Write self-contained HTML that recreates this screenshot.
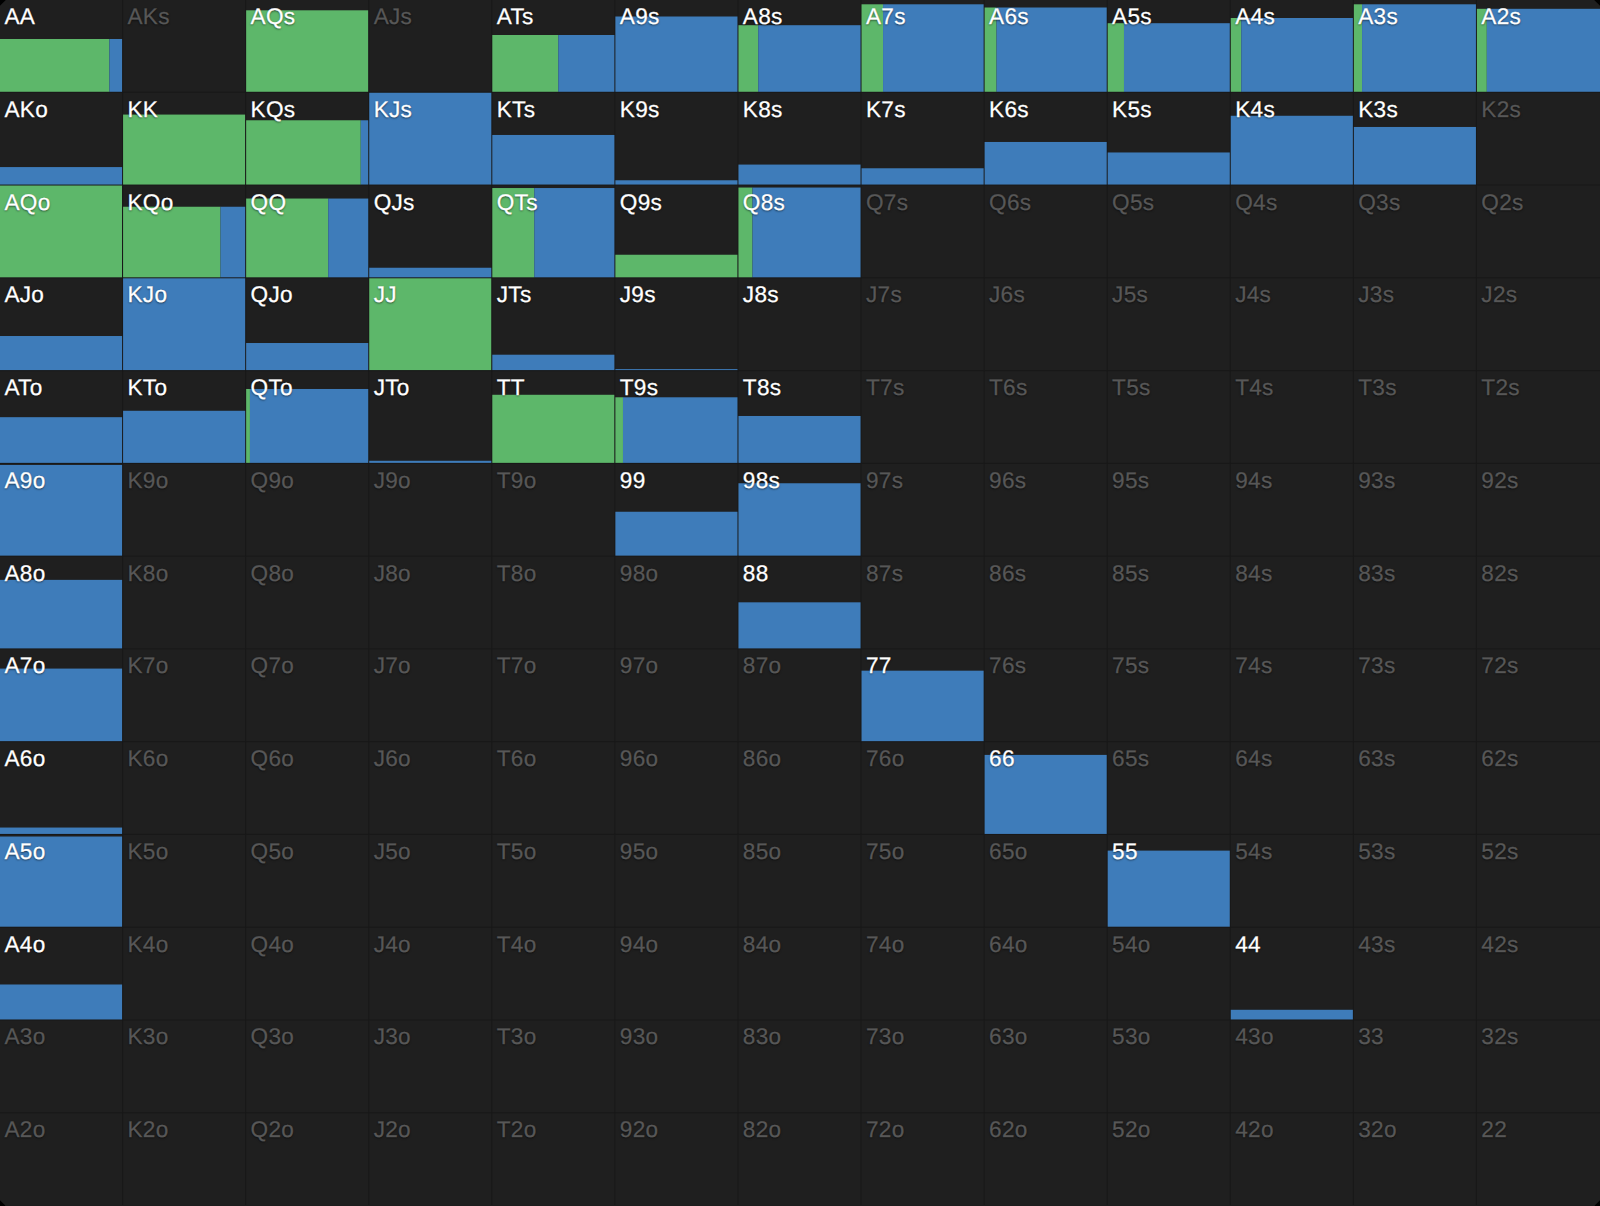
<!DOCTYPE html>
<html><head><meta charset="utf-8"><style>
html,body{margin:0;padding:0;background:#000;width:1600px;height:1206px;overflow:hidden}
#g{position:absolute;left:0;top:0;width:1600px;height:1206px;background:#1f1f1f;overflow:hidden;clip-path:polygon(5.8px 0,1594.2px 0,1600px 5.8px,1600px 1200.2px,1594.2px 1206px,5.8px 1206px,0 1200.2px,0 5.8px)}
svg{position:absolute;left:0;top:0}
.t{position:absolute;font:22.6px/22.6px "Liberation Sans",sans-serif;letter-spacing:.3px;color:#575757;text-shadow:0 1px 2px rgba(0,0,0,.6);white-space:nowrap;text-rendering:geometricPrecision;-webkit-text-stroke:.25px currentColor}
.w{color:#ffffff}
</style></head><body><div id="g">
<svg width="1600" height="1206" viewBox="0 0 1600 1206">
<rect x="122.08" y="0" width="1" height="1206" fill="#181818"/>
<rect x="245.15" y="0" width="1" height="1206" fill="#181818"/>
<rect x="368.23" y="0" width="1" height="1206" fill="#181818"/>
<rect x="491.31" y="0" width="1" height="1206" fill="#181818"/>
<rect x="614.38" y="0" width="1" height="1206" fill="#181818"/>
<rect x="737.46" y="0" width="1" height="1206" fill="#181818"/>
<rect x="860.54" y="0" width="1" height="1206" fill="#181818"/>
<rect x="983.62" y="0" width="1" height="1206" fill="#181818"/>
<rect x="1106.69" y="0" width="1" height="1206" fill="#181818"/>
<rect x="1229.77" y="0" width="1" height="1206" fill="#181818"/>
<rect x="1352.85" y="0" width="1" height="1206" fill="#181818"/>
<rect x="1475.92" y="0" width="1" height="1206" fill="#181818"/>
<rect x="0" y="91.77" width="1600" height="1" fill="#181818"/>
<rect x="0" y="184.54" width="1600" height="1" fill="#181818"/>
<rect x="0" y="277.31" width="1600" height="1" fill="#181818"/>
<rect x="0" y="370.08" width="1600" height="1" fill="#181818"/>
<rect x="0" y="462.85" width="1600" height="1" fill="#181818"/>
<rect x="0" y="555.62" width="1600" height="1" fill="#181818"/>
<rect x="0" y="648.38" width="1600" height="1" fill="#181818"/>
<rect x="0" y="741.15" width="1600" height="1" fill="#181818"/>
<rect x="0" y="833.92" width="1600" height="1" fill="#181818"/>
<rect x="0" y="926.69" width="1600" height="1" fill="#181818"/>
<rect x="0" y="1019.46" width="1600" height="1" fill="#181818"/>
<rect x="0" y="1112.23" width="1600" height="1" fill="#181818"/>
<rect x="0" y="1205" width="1600" height="1" fill="#1d1d1d"/>
<rect x="0" y="39" width="109.4" height="52.77" fill="#5db76a"/>
<rect x="109.4" y="39" width="12.68" height="52.77" fill="#3e7cba"/>
<rect x="246.15" y="10.3" width="122" height="81.47" fill="#5db76a"/>
<rect x="492.31" y="35" width="66" height="56.77" fill="#5db76a"/>
<rect x="558.31" y="35" width="56.08" height="56.77" fill="#3e7cba"/>
<rect x="615.38" y="16.5" width="122.08" height="75.27" fill="#3e7cba"/>
<rect x="738.46" y="25.2" width="19.8" height="66.57" fill="#5db76a"/>
<rect x="758.26" y="25.2" width="102.28" height="66.57" fill="#3e7cba"/>
<rect x="861.54" y="4.3" width="21.5" height="87.47" fill="#5db76a"/>
<rect x="883.04" y="4.3" width="100.58" height="87.47" fill="#3e7cba"/>
<rect x="984.62" y="7.5" width="11.9" height="84.27" fill="#5db76a"/>
<rect x="996.52" y="7.5" width="110.18" height="84.27" fill="#3e7cba"/>
<rect x="1107.69" y="23.2" width="16.3" height="68.57" fill="#5db76a"/>
<rect x="1123.99" y="23.2" width="105.78" height="68.57" fill="#3e7cba"/>
<rect x="1230.77" y="18" width="10.5" height="73.77" fill="#5db76a"/>
<rect x="1241.27" y="18" width="111.58" height="73.77" fill="#3e7cba"/>
<rect x="1353.85" y="4.3" width="8.2" height="87.47" fill="#5db76a"/>
<rect x="1362.05" y="4.3" width="113.88" height="87.47" fill="#3e7cba"/>
<rect x="1476.92" y="8.8" width="9.9" height="82.97" fill="#5db76a"/>
<rect x="1486.82" y="8.8" width="113.18" height="82.97" fill="#3e7cba"/>
<rect x="0" y="167.07" width="122.08" height="17.47" fill="#3e7cba"/>
<rect x="123.08" y="114.57" width="122" height="69.97" fill="#5db76a"/>
<rect x="246.15" y="120.27" width="114.6" height="64.27" fill="#5db76a"/>
<rect x="360.75" y="120.27" width="7.48" height="64.27" fill="#3e7cba"/>
<rect x="369.23" y="92.77" width="122.08" height="91.77" fill="#3e7cba"/>
<rect x="492.31" y="134.97" width="122.08" height="49.57" fill="#3e7cba"/>
<rect x="615.38" y="180.27" width="122.08" height="4.27" fill="#3e7cba"/>
<rect x="738.46" y="164.57" width="122.08" height="19.97" fill="#3e7cba"/>
<rect x="861.54" y="168.27" width="122.08" height="16.27" fill="#3e7cba"/>
<rect x="984.62" y="141.97" width="122.08" height="42.57" fill="#3e7cba"/>
<rect x="1107.69" y="152.47" width="122.08" height="32.07" fill="#3e7cba"/>
<rect x="1230.77" y="115.77" width="122.08" height="68.77" fill="#3e7cba"/>
<rect x="1353.85" y="126.97" width="122.08" height="57.57" fill="#3e7cba"/>
<rect x="0" y="185.54" width="122" height="91.77" fill="#5db76a"/>
<rect x="123.08" y="206.74" width="97.4" height="70.57" fill="#5db76a"/>
<rect x="220.48" y="206.74" width="24.68" height="70.57" fill="#3e7cba"/>
<rect x="246.15" y="198.54" width="82.1" height="78.77" fill="#5db76a"/>
<rect x="328.25" y="198.54" width="39.98" height="78.77" fill="#3e7cba"/>
<rect x="369.23" y="267.74" width="122.08" height="9.57" fill="#3e7cba"/>
<rect x="492.31" y="188.04" width="42" height="89.27" fill="#5db76a"/>
<rect x="534.31" y="188.04" width="80.08" height="89.27" fill="#3e7cba"/>
<rect x="615.38" y="254.74" width="122" height="22.57" fill="#5db76a"/>
<rect x="738.46" y="187.54" width="14" height="89.77" fill="#5db76a"/>
<rect x="752.46" y="187.54" width="108.08" height="89.77" fill="#3e7cba"/>
<rect x="0" y="336.01" width="122.08" height="34.07" fill="#3e7cba"/>
<rect x="123.08" y="278.31" width="122.08" height="91.77" fill="#3e7cba"/>
<rect x="246.15" y="343.01" width="122.08" height="27.07" fill="#3e7cba"/>
<rect x="369.23" y="278.31" width="122" height="91.77" fill="#5db76a"/>
<rect x="492.31" y="354.71" width="122.08" height="15.37" fill="#3e7cba"/>
<rect x="615.38" y="369.11" width="122.08" height="0.97" fill="#3e7cba"/>
<rect x="0" y="417.18" width="122.08" height="45.67" fill="#3e7cba"/>
<rect x="123.08" y="410.78" width="122.08" height="52.07" fill="#3e7cba"/>
<rect x="246.15" y="388.98" width="3.8" height="73.87" fill="#5db76a"/>
<rect x="249.95" y="388.98" width="118.28" height="73.87" fill="#3e7cba"/>
<rect x="369.23" y="460.78" width="122.08" height="2.07" fill="#3e7cba"/>
<rect x="492.31" y="394.78" width="122" height="68.07" fill="#5db76a"/>
<rect x="615.38" y="397.28" width="7.6" height="65.57" fill="#5db76a"/>
<rect x="622.98" y="397.28" width="114.48" height="65.57" fill="#3e7cba"/>
<rect x="738.46" y="415.98" width="122.08" height="46.87" fill="#3e7cba"/>
<rect x="0" y="464.95" width="122.08" height="90.67" fill="#3e7cba"/>
<rect x="615.38" y="511.75" width="122.08" height="43.87" fill="#3e7cba"/>
<rect x="738.46" y="483.25" width="122.08" height="72.37" fill="#3e7cba"/>
<rect x="0" y="579.87" width="122.08" height="68.52" fill="#3e7cba"/>
<rect x="738.46" y="602.32" width="122.08" height="46.07" fill="#3e7cba"/>
<rect x="0" y="668.58" width="122.08" height="72.57" fill="#3e7cba"/>
<rect x="861.54" y="670.68" width="122.08" height="70.47" fill="#3e7cba"/>
<rect x="0" y="827.55" width="122.08" height="6.37" fill="#3e7cba"/>
<rect x="984.62" y="754.9" width="122.08" height="79.02" fill="#3e7cba"/>
<rect x="0" y="836.52" width="122.08" height="90.17" fill="#3e7cba"/>
<rect x="1107.69" y="850.62" width="122.08" height="76.07" fill="#3e7cba"/>
<rect x="0" y="984.49" width="122.08" height="34.97" fill="#3e7cba"/>
<rect x="1230.77" y="1009.79" width="122.08" height="9.67" fill="#3e7cba"/>
</svg>
<div class="t w" style="left:4.4px;top:6px">AA</div>
<div class="t" style="left:127.48px;top:6px">AKs</div>
<div class="t w" style="left:250.55px;top:6px">AQs</div>
<div class="t" style="left:373.63px;top:6px">AJs</div>
<div class="t w" style="left:496.71px;top:6px">ATs</div>
<div class="t w" style="left:619.78px;top:6px">A9s</div>
<div class="t w" style="left:742.86px;top:6px">A8s</div>
<div class="t w" style="left:865.94px;top:6px">A7s</div>
<div class="t w" style="left:989.02px;top:6px">A6s</div>
<div class="t w" style="left:1112.09px;top:6px">A5s</div>
<div class="t w" style="left:1235.17px;top:6px">A4s</div>
<div class="t w" style="left:1358.25px;top:6px">A3s</div>
<div class="t w" style="left:1481.32px;top:6px">A2s</div>
<div class="t w" style="left:4.4px;top:98.77px">AKo</div>
<div class="t w" style="left:127.48px;top:98.77px">KK</div>
<div class="t w" style="left:250.55px;top:98.77px">KQs</div>
<div class="t w" style="left:373.63px;top:98.77px">KJs</div>
<div class="t w" style="left:496.71px;top:98.77px">KTs</div>
<div class="t w" style="left:619.78px;top:98.77px">K9s</div>
<div class="t w" style="left:742.86px;top:98.77px">K8s</div>
<div class="t w" style="left:865.94px;top:98.77px">K7s</div>
<div class="t w" style="left:989.02px;top:98.77px">K6s</div>
<div class="t w" style="left:1112.09px;top:98.77px">K5s</div>
<div class="t w" style="left:1235.17px;top:98.77px">K4s</div>
<div class="t w" style="left:1358.25px;top:98.77px">K3s</div>
<div class="t" style="left:1481.32px;top:98.77px">K2s</div>
<div class="t w" style="left:4.4px;top:191.54px">AQo</div>
<div class="t w" style="left:127.48px;top:191.54px">KQo</div>
<div class="t w" style="left:250.55px;top:191.54px">QQ</div>
<div class="t w" style="left:373.63px;top:191.54px">QJs</div>
<div class="t w" style="left:496.71px;top:191.54px">QTs</div>
<div class="t w" style="left:619.78px;top:191.54px">Q9s</div>
<div class="t w" style="left:742.86px;top:191.54px">Q8s</div>
<div class="t" style="left:865.94px;top:191.54px">Q7s</div>
<div class="t" style="left:989.02px;top:191.54px">Q6s</div>
<div class="t" style="left:1112.09px;top:191.54px">Q5s</div>
<div class="t" style="left:1235.17px;top:191.54px">Q4s</div>
<div class="t" style="left:1358.25px;top:191.54px">Q3s</div>
<div class="t" style="left:1481.32px;top:191.54px">Q2s</div>
<div class="t w" style="left:4.4px;top:284.31px">AJo</div>
<div class="t w" style="left:127.48px;top:284.31px">KJo</div>
<div class="t w" style="left:250.55px;top:284.31px">QJo</div>
<div class="t w" style="left:373.63px;top:284.31px">JJ</div>
<div class="t w" style="left:496.71px;top:284.31px">JTs</div>
<div class="t w" style="left:619.78px;top:284.31px">J9s</div>
<div class="t w" style="left:742.86px;top:284.31px">J8s</div>
<div class="t" style="left:865.94px;top:284.31px">J7s</div>
<div class="t" style="left:989.02px;top:284.31px">J6s</div>
<div class="t" style="left:1112.09px;top:284.31px">J5s</div>
<div class="t" style="left:1235.17px;top:284.31px">J4s</div>
<div class="t" style="left:1358.25px;top:284.31px">J3s</div>
<div class="t" style="left:1481.32px;top:284.31px">J2s</div>
<div class="t w" style="left:4.4px;top:377.08px">ATo</div>
<div class="t w" style="left:127.48px;top:377.08px">KTo</div>
<div class="t w" style="left:250.55px;top:377.08px">QTo</div>
<div class="t w" style="left:373.63px;top:377.08px">JTo</div>
<div class="t w" style="left:496.71px;top:377.08px">TT</div>
<div class="t w" style="left:619.78px;top:377.08px">T9s</div>
<div class="t w" style="left:742.86px;top:377.08px">T8s</div>
<div class="t" style="left:865.94px;top:377.08px">T7s</div>
<div class="t" style="left:989.02px;top:377.08px">T6s</div>
<div class="t" style="left:1112.09px;top:377.08px">T5s</div>
<div class="t" style="left:1235.17px;top:377.08px">T4s</div>
<div class="t" style="left:1358.25px;top:377.08px">T3s</div>
<div class="t" style="left:1481.32px;top:377.08px">T2s</div>
<div class="t w" style="left:4.4px;top:469.85px">A9o</div>
<div class="t" style="left:127.48px;top:469.85px">K9o</div>
<div class="t" style="left:250.55px;top:469.85px">Q9o</div>
<div class="t" style="left:373.63px;top:469.85px">J9o</div>
<div class="t" style="left:496.71px;top:469.85px">T9o</div>
<div class="t w" style="left:619.78px;top:469.85px">99</div>
<div class="t w" style="left:742.86px;top:469.85px">98s</div>
<div class="t" style="left:865.94px;top:469.85px">97s</div>
<div class="t" style="left:989.02px;top:469.85px">96s</div>
<div class="t" style="left:1112.09px;top:469.85px">95s</div>
<div class="t" style="left:1235.17px;top:469.85px">94s</div>
<div class="t" style="left:1358.25px;top:469.85px">93s</div>
<div class="t" style="left:1481.32px;top:469.85px">92s</div>
<div class="t w" style="left:4.4px;top:562.62px">A8o</div>
<div class="t" style="left:127.48px;top:562.62px">K8o</div>
<div class="t" style="left:250.55px;top:562.62px">Q8o</div>
<div class="t" style="left:373.63px;top:562.62px">J8o</div>
<div class="t" style="left:496.71px;top:562.62px">T8o</div>
<div class="t" style="left:619.78px;top:562.62px">98o</div>
<div class="t w" style="left:742.86px;top:562.62px">88</div>
<div class="t" style="left:865.94px;top:562.62px">87s</div>
<div class="t" style="left:989.02px;top:562.62px">86s</div>
<div class="t" style="left:1112.09px;top:562.62px">85s</div>
<div class="t" style="left:1235.17px;top:562.62px">84s</div>
<div class="t" style="left:1358.25px;top:562.62px">83s</div>
<div class="t" style="left:1481.32px;top:562.62px">82s</div>
<div class="t w" style="left:4.4px;top:655.38px">A7o</div>
<div class="t" style="left:127.48px;top:655.38px">K7o</div>
<div class="t" style="left:250.55px;top:655.38px">Q7o</div>
<div class="t" style="left:373.63px;top:655.38px">J7o</div>
<div class="t" style="left:496.71px;top:655.38px">T7o</div>
<div class="t" style="left:619.78px;top:655.38px">97o</div>
<div class="t" style="left:742.86px;top:655.38px">87o</div>
<div class="t w" style="left:865.94px;top:655.38px">77</div>
<div class="t" style="left:989.02px;top:655.38px">76s</div>
<div class="t" style="left:1112.09px;top:655.38px">75s</div>
<div class="t" style="left:1235.17px;top:655.38px">74s</div>
<div class="t" style="left:1358.25px;top:655.38px">73s</div>
<div class="t" style="left:1481.32px;top:655.38px">72s</div>
<div class="t w" style="left:4.4px;top:748.15px">A6o</div>
<div class="t" style="left:127.48px;top:748.15px">K6o</div>
<div class="t" style="left:250.55px;top:748.15px">Q6o</div>
<div class="t" style="left:373.63px;top:748.15px">J6o</div>
<div class="t" style="left:496.71px;top:748.15px">T6o</div>
<div class="t" style="left:619.78px;top:748.15px">96o</div>
<div class="t" style="left:742.86px;top:748.15px">86o</div>
<div class="t" style="left:865.94px;top:748.15px">76o</div>
<div class="t w" style="left:989.02px;top:748.15px">66</div>
<div class="t" style="left:1112.09px;top:748.15px">65s</div>
<div class="t" style="left:1235.17px;top:748.15px">64s</div>
<div class="t" style="left:1358.25px;top:748.15px">63s</div>
<div class="t" style="left:1481.32px;top:748.15px">62s</div>
<div class="t w" style="left:4.4px;top:840.92px">A5o</div>
<div class="t" style="left:127.48px;top:840.92px">K5o</div>
<div class="t" style="left:250.55px;top:840.92px">Q5o</div>
<div class="t" style="left:373.63px;top:840.92px">J5o</div>
<div class="t" style="left:496.71px;top:840.92px">T5o</div>
<div class="t" style="left:619.78px;top:840.92px">95o</div>
<div class="t" style="left:742.86px;top:840.92px">85o</div>
<div class="t" style="left:865.94px;top:840.92px">75o</div>
<div class="t" style="left:989.02px;top:840.92px">65o</div>
<div class="t w" style="left:1112.09px;top:840.92px">55</div>
<div class="t" style="left:1235.17px;top:840.92px">54s</div>
<div class="t" style="left:1358.25px;top:840.92px">53s</div>
<div class="t" style="left:1481.32px;top:840.92px">52s</div>
<div class="t w" style="left:4.4px;top:933.69px">A4o</div>
<div class="t" style="left:127.48px;top:933.69px">K4o</div>
<div class="t" style="left:250.55px;top:933.69px">Q4o</div>
<div class="t" style="left:373.63px;top:933.69px">J4o</div>
<div class="t" style="left:496.71px;top:933.69px">T4o</div>
<div class="t" style="left:619.78px;top:933.69px">94o</div>
<div class="t" style="left:742.86px;top:933.69px">84o</div>
<div class="t" style="left:865.94px;top:933.69px">74o</div>
<div class="t" style="left:989.02px;top:933.69px">64o</div>
<div class="t" style="left:1112.09px;top:933.69px">54o</div>
<div class="t w" style="left:1235.17px;top:933.69px">44</div>
<div class="t" style="left:1358.25px;top:933.69px">43s</div>
<div class="t" style="left:1481.32px;top:933.69px">42s</div>
<div class="t" style="left:4.4px;top:1026.46px">A3o</div>
<div class="t" style="left:127.48px;top:1026.46px">K3o</div>
<div class="t" style="left:250.55px;top:1026.46px">Q3o</div>
<div class="t" style="left:373.63px;top:1026.46px">J3o</div>
<div class="t" style="left:496.71px;top:1026.46px">T3o</div>
<div class="t" style="left:619.78px;top:1026.46px">93o</div>
<div class="t" style="left:742.86px;top:1026.46px">83o</div>
<div class="t" style="left:865.94px;top:1026.46px">73o</div>
<div class="t" style="left:989.02px;top:1026.46px">63o</div>
<div class="t" style="left:1112.09px;top:1026.46px">53o</div>
<div class="t" style="left:1235.17px;top:1026.46px">43o</div>
<div class="t" style="left:1358.25px;top:1026.46px">33</div>
<div class="t" style="left:1481.32px;top:1026.46px">32s</div>
<div class="t" style="left:4.4px;top:1119.23px">A2o</div>
<div class="t" style="left:127.48px;top:1119.23px">K2o</div>
<div class="t" style="left:250.55px;top:1119.23px">Q2o</div>
<div class="t" style="left:373.63px;top:1119.23px">J2o</div>
<div class="t" style="left:496.71px;top:1119.23px">T2o</div>
<div class="t" style="left:619.78px;top:1119.23px">92o</div>
<div class="t" style="left:742.86px;top:1119.23px">82o</div>
<div class="t" style="left:865.94px;top:1119.23px">72o</div>
<div class="t" style="left:989.02px;top:1119.23px">62o</div>
<div class="t" style="left:1112.09px;top:1119.23px">52o</div>
<div class="t" style="left:1235.17px;top:1119.23px">42o</div>
<div class="t" style="left:1358.25px;top:1119.23px">32o</div>
<div class="t" style="left:1481.32px;top:1119.23px">22</div>
</div></body></html>
